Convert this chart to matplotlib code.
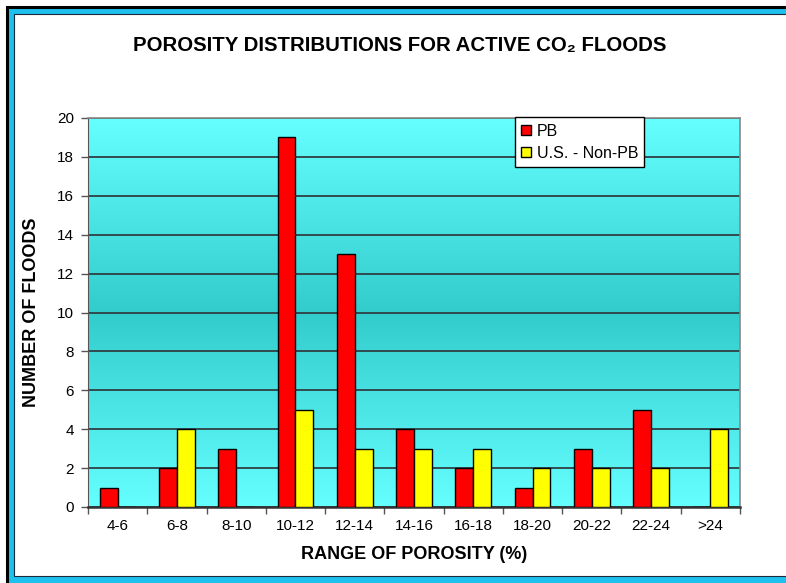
import numpy as np
import matplotlib
matplotlib.use("Agg")
import matplotlib.pyplot as plt
from matplotlib.colors import LinearSegmentedColormap
from matplotlib.patches import Rectangle

plt.rcParams['font.family'] = ['Liberation Sans', 'DejaVu Sans']

categories = ["4-6", "6-8", "8-10", "10-12", "12-14", "14-16", "16-18",
              "18-20", "20-22", "22-24", ">24"]
pb_floods = [1, 2, 3, 19, 13, 4, 2, 1, 3, 5, 0]
non_pb_floods = [0, 4, 0, 5, 3, 3, 3, 2, 2, 2, 4]
y_ticks = [0, 2, 4, 6, 8, 10, 12, 14, 16, 18, 20]

W, H = 786, 583
fig = plt.figure(figsize=(W / 100, H / 100), dpi=100)
fig.patch.set_facecolor("white")

# outer frame: black rule, cyan band, thin dark inner rule
fig.add_artist(Rectangle((7 / W, -0.05), 1.2, 1.05 - 7 / H, transform=fig.transFigure,
                         facecolor="#1EC0EE", edgecolor="black", linewidth=2.2, zorder=-3))
fig.add_artist(Rectangle((14 / W, 7 / H), 1.2, 1 - 21 / H, transform=fig.transFigure,
                         facecolor="white", edgecolor="#1a2a3a", linewidth=0.8, zorder=-2))

ax = fig.add_axes([88 / W, 1 - 507 / H, 652 / W, 389 / H])
x = np.arange(len(categories))
bw = 0.3

# vertical cyan gradient background, darkest near the middle
grad = LinearSegmentedColormap.from_list("bg", ["#66FFFF", "#33CCCC", "#66FFFF"])
ax.imshow(np.linspace(0, 1, 256).reshape(-1, 1), cmap=grad, aspect="auto",
          extent=(-0.5, len(categories) - 0.5, 0, 20), origin="lower", zorder=0)

ax.bar(x - bw / 2, pb_floods, bw, color="#FF0000", edgecolor="black",
       linewidth=1.0, label="PB", zorder=3)
ax.bar(x + bw / 2, non_pb_floods, bw, color="#FFFF00", edgecolor="black",
       linewidth=1.0, label="U.S. - Non-PB", zorder=3)

ax.set_xlim(-0.5, len(categories) - 0.5)
ax.set_ylim(0, 20)
ax.set_yticks(y_ticks)
ax.yaxis.grid(True, color="#2f3f44", linewidth=1.3, zorder=1)
ax.set_axisbelow(True)
ax.tick_params(axis="y", length=5, width=1, color="#555555", labelsize=11, pad=5)

ax.set_xticks(x)
ax.set_xticklabels(categories, fontsize=11)
ax.set_xticks(np.arange(-0.5, len(categories), 1), minor=True)
ax.tick_params(axis="x", which="major", length=0, pad=9)
ax.tick_params(axis="x", which="minor", length=5, width=1, color="#555555")

for side in ("top", "right"):
    ax.spines[side].set_color("#888888")
    ax.spines[side].set_linewidth(1.2)
ax.spines["left"].set_color("#555555")
ax.spines["bottom"].set_color("#333333")
ax.spines["bottom"].set_linewidth(1.8)

ax.set_xlabel("RANGE OF POROSITY (%)", fontsize=13, fontweight="bold", labelpad=9)
ax.set_ylabel("NUMBER OF FLOODS", fontsize=13, fontweight="bold", labelpad=12)

fig.text(400 / W, 1 - 45 / H, "POROSITY DISTRIBUTIONS FOR ACTIVE CO₂ FLOODS",
         ha="center", va="center", fontsize=14.7, fontweight="bold")

leg = ax.legend(loc="upper left", bbox_to_anchor=(427 / 652, 1.002), fontsize=11.5,
                frameon=True, fancybox=False, edgecolor="black", framealpha=1,
                handlelength=0.6, handleheight=0.6, handletextpad=0.35,
                borderpad=0.4, borderaxespad=0.0, labelspacing=0.45)
leg.get_frame().set_linewidth(1.0)

fig.savefig("out.png", dpi=100)
